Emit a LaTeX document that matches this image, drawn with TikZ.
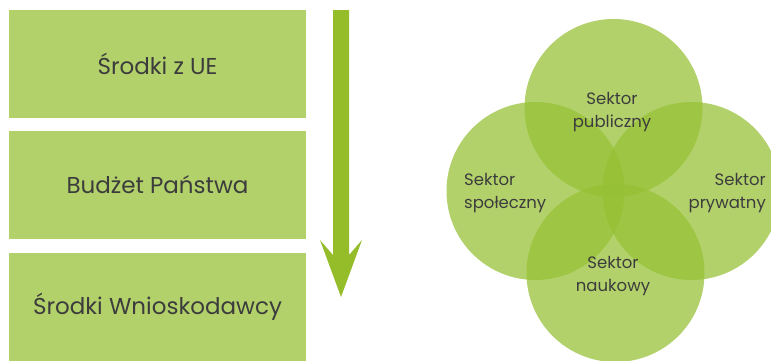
\documentclass[tikz,border=0pt]{standalone}
\usepackage{fontspec}
\setmainfont{Poppins}
\usepackage{xcolor}
\usepackage{tikz}
\usetikzlibrary{positioning}

\definecolor{boxgreen}{RGB}{178,209,107}
\definecolor{arrowgreen}{RGB}{149,189,42}
\definecolor{ringgreen}{RGB}{150,192,52}
\definecolor{txtgray}{RGB}{60,60,60}

\begin{document}
\begin{tikzpicture}[x=1pt, y=-1pt,
  srcbox/.style={rectangle, fill=boxgreen, minimum width=297pt, minimum height=108pt,
    inner sep=0pt, text=txtgray, font=\fontsize{23}{27}\selectfont},
  sector/.style={circle, fill=ringgreen, fill opacity=0.73, minimum size=178pt, inner sep=0pt},
  sectxt/.style={text=txtgray, font=\fontsize{16.5}{23}\selectfont, inner sep=0pt}]
  \useasboundingbox (0,0) rectangle (771,360);

  % Funding sources
  \node[srcbox] (srodkiUE) at (157.5,64) {Środki z UE};
  \node[srcbox] (budzet) at (157.5,185) {Budżet Państwa};
  \node[srcbox] (wnioskodawca) at (157.5,307) {Środki Wnioskodawcy};

  % Down arrow
  \fill[arrowgreen] (333,10) -- (349,10) -- (349,255) -- (362,240) -- (341,297)
    -- (320,240) -- (333,255) -- cycle;

  % Sector circles
  \node[sector] (publiczny) at (613.5,108) {};
  \node[sector] (spoleczny) at (535.5,191) {};
  \node[sector] (prywatny) at (691.5,191) {};
  \node[sector] (naukowy) at (615.5,273) {};

  % Labels
  \node[sectxt, align=center] (publicznyTxt) at (612,112) {Sektor\\publiczny};
  \node[sectxt, align=left, anchor=west] (spolecznyTxt) at (464,193) {Sektor\\społeczny};
  \node[sectxt, align=right, anchor=east] (prywatnyTxt) at (766,193) {Sektor\\prywatny};
  \node[sectxt, align=center] (naukowyTxt) at (613,276) {Sektor\\naukowy};
\end{tikzpicture}
\end{document}
